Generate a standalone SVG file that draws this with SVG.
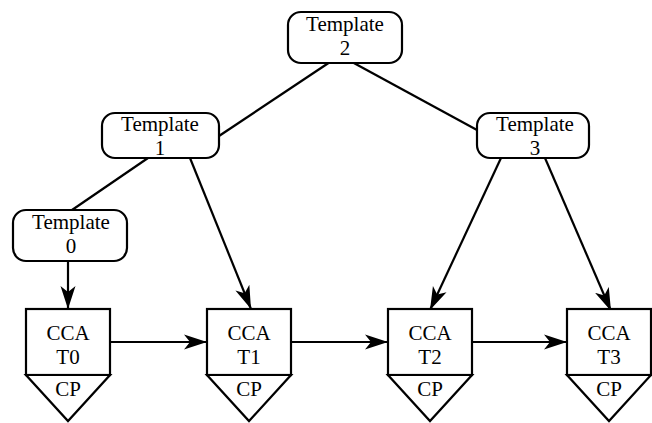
<svg xmlns="http://www.w3.org/2000/svg" width="652" height="423" viewBox="0 0 652 423">
  <style>
    .tpl { fill: #fff; stroke: #000; stroke-width: 2.2; }
    .cca { fill: #fff; stroke: #000; stroke-width: 2.2; }
    .edge { fill: none; stroke: #000; stroke-width: 2.2; }
    text { font-family: "Liberation Serif", "Times New Roman", serif; font-size: 21px; fill: #000; text-anchor: middle; }
  </style>
  <defs>
    <marker id="arrow" markerUnits="userSpaceOnUse" markerWidth="24" markerHeight="18" viewBox="0 0 24 18" refX="23" refY="9" orient="auto">
      <path d="M0,1.5 L23,9 L0,16.5 L6,9 Z" fill="#000"/>
    </marker>
  </defs>

  <rect width="652" height="423" fill="#fff"/>

  <!-- connectors -->
  <g id="connectors">
    <line class="edge" x1="330" y1="62" x2="219" y2="136"/>
    <line class="edge" x1="352" y1="62" x2="477" y2="130"/>
    <line class="edge" x1="148" y1="158" x2="72" y2="210"/>
    <line class="edge" x1="68" y1="261" x2="68" y2="309" marker-end="url(#arrow)"/>
    <line class="edge" x1="190" y1="158" x2="251" y2="309" marker-end="url(#arrow)"/>
    <line class="edge" x1="501" y1="158" x2="430" y2="310" marker-end="url(#arrow)"/>
    <line class="edge" x1="545" y1="158" x2="611" y2="311" marker-end="url(#arrow)"/>
    <line class="edge" x1="110" y1="342" x2="207" y2="342" marker-end="url(#arrow)"/>
    <line class="edge" x1="291" y1="342" x2="388" y2="342" marker-end="url(#arrow)"/>
    <line class="edge" x1="472" y1="342" x2="567" y2="342" marker-end="url(#arrow)"/>
  </g>

  <!-- template nodes -->
  <g id="template2">
    <rect class="tpl" x="288" y="12" width="114" height="51" rx="13"/>
    <text x="345" y="31">Template</text>
    <text x="345" y="55">2</text>
  </g>
  <g id="template1">
    <rect class="tpl" x="102" y="113" width="117" height="45" rx="13"/>
    <text x="160" y="131">Template</text>
    <text x="160" y="155">1</text>
  </g>
  <g id="template3">
    <rect class="tpl" x="477" y="113" width="112" height="45" rx="13"/>
    <text x="535" y="131">Template</text>
    <text x="535" y="155">3</text>
  </g>
  <g id="template0">
    <rect class="tpl" x="13" y="210" width="114" height="51" rx="13"/>
    <text x="71" y="229">Template</text>
    <text x="71" y="253">0</text>
  </g>

  <!-- CCA nodes with CP wedges -->
  <g id="ccaT0">
    <rect class="cca" x="26" y="309" width="84" height="66"/>
    <polygon class="cca" points="26,375 110,375 68,421"/>
    <text x="68" y="340">CCA</text>
    <text x="68" y="364">T0</text>
    <text x="68" y="396">CP</text>
  </g>
  <g id="ccaT1">
    <rect class="cca" x="207" y="309" width="84" height="66"/>
    <polygon class="cca" points="207,375 291,375 249,421"/>
    <text x="249" y="340">CCA</text>
    <text x="249" y="364">T1</text>
    <text x="249" y="396">CP</text>
  </g>
  <g id="ccaT2">
    <rect class="cca" x="388" y="309" width="84" height="66"/>
    <polygon class="cca" points="388,375 472,375 430,421"/>
    <text x="430" y="340">CCA</text>
    <text x="430" y="364">T2</text>
    <text x="430" y="396">CP</text>
  </g>
  <g id="ccaT3">
    <rect class="cca" x="567" y="309" width="84" height="66"/>
    <polygon class="cca" points="567,375 651,375 609,421"/>
    <text x="609" y="340">CCA</text>
    <text x="609" y="364">T3</text>
    <text x="609" y="396">CP</text>
  </g>
</svg>
